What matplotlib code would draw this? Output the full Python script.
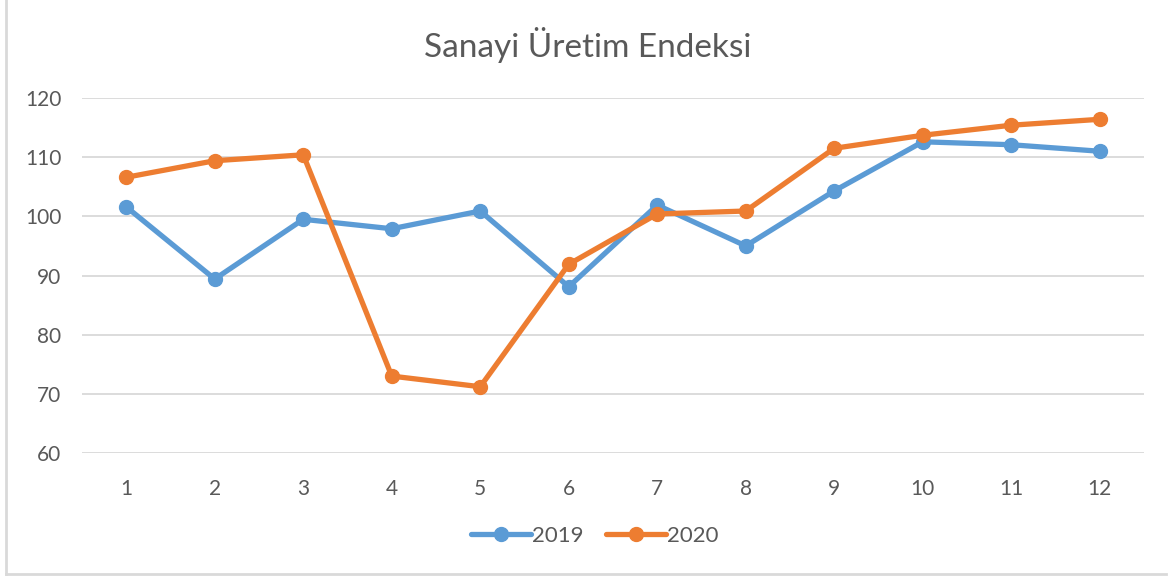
import matplotlib
matplotlib.use("Agg")
import matplotlib.pyplot as plt
from matplotlib.lines import Line2D

plt.rcParams['font.family'] = ['Lato', 'DejaVu Sans']

months = [1, 2, 3, 4, 5, 6, 7, 8, 9, 10, 11, 12]
tick_labels = [str(m) for m in months]
series_2019 = [101.6, 89.4, 99.5, 97.9, 100.9, 88.1, 101.9, 95.0, 104.3, 112.6, 112.1, 111.0]
series_2020 = [106.6, 109.4, 110.4, 73.0, 71.2, 91.9, 100.4, 100.9, 111.5, 113.7, 115.4, 116.4]
labels = ["2019", "2020"]
colors = ["#5b9bd5", "#ed7d31"]
yticks = [60, 70, 80, 90, 100, 110, 120]

fig = plt.figure(figsize=(11.7, 5.78), dpi=100)
ax = fig.add_axes([82/1170, 1-453/578, (1144-82)/1170, (453-98)/578])

for vals, lab, col in zip([series_2019, series_2020], labels, colors):
    ax.plot(months, vals, color=col, lw=3.8, marker='o', markersize=10,
            label=lab, solid_capstyle='round', zorder=3)

ax.set_xlim(0.5, 12.5)
ax.set_ylim(60, 120)
ax.set_yticks(yticks)
ax.set_xticks(months)
ax.set_xticklabels(tick_labels)
ax.yaxis.grid(True, color='#d9d9d9', lw=1.3)
ax.set_axisbelow(True)
for s in ax.spines.values():
    s.set_visible(False)
ax.tick_params(axis='both', length=0, labelsize=15, labelcolor='#595959')
ax.tick_params(axis='y', pad=15)
ax.tick_params(axis='x', pad=19)

fig.text(588/1170, 1-45/578, "Sanayi Üretim Endeksi", ha='center', va='center',
         fontsize=24, color='#595959')

leg = fig.legend(loc='center', bbox_to_anchor=(595/1170, 1-536/578), ncol=2,
                 frameon=False, fontsize=16, handlelength=2.7, columnspacing=1.0,
                 handletextpad=0.05)
for t in leg.get_texts():
    t.set_color('#595959')

# outer chart border
fig.add_artist(Line2D([6/1170, 6/1170], [4/578, 1], transform=fig.transFigure, color='#d9d9d9', lw=2))
fig.add_artist(Line2D([6/1170, 1166/1170], [4/578, 4/578], transform=fig.transFigure, color='#d9d9d9', lw=2))

fig.savefig("out.png", dpi=100)
